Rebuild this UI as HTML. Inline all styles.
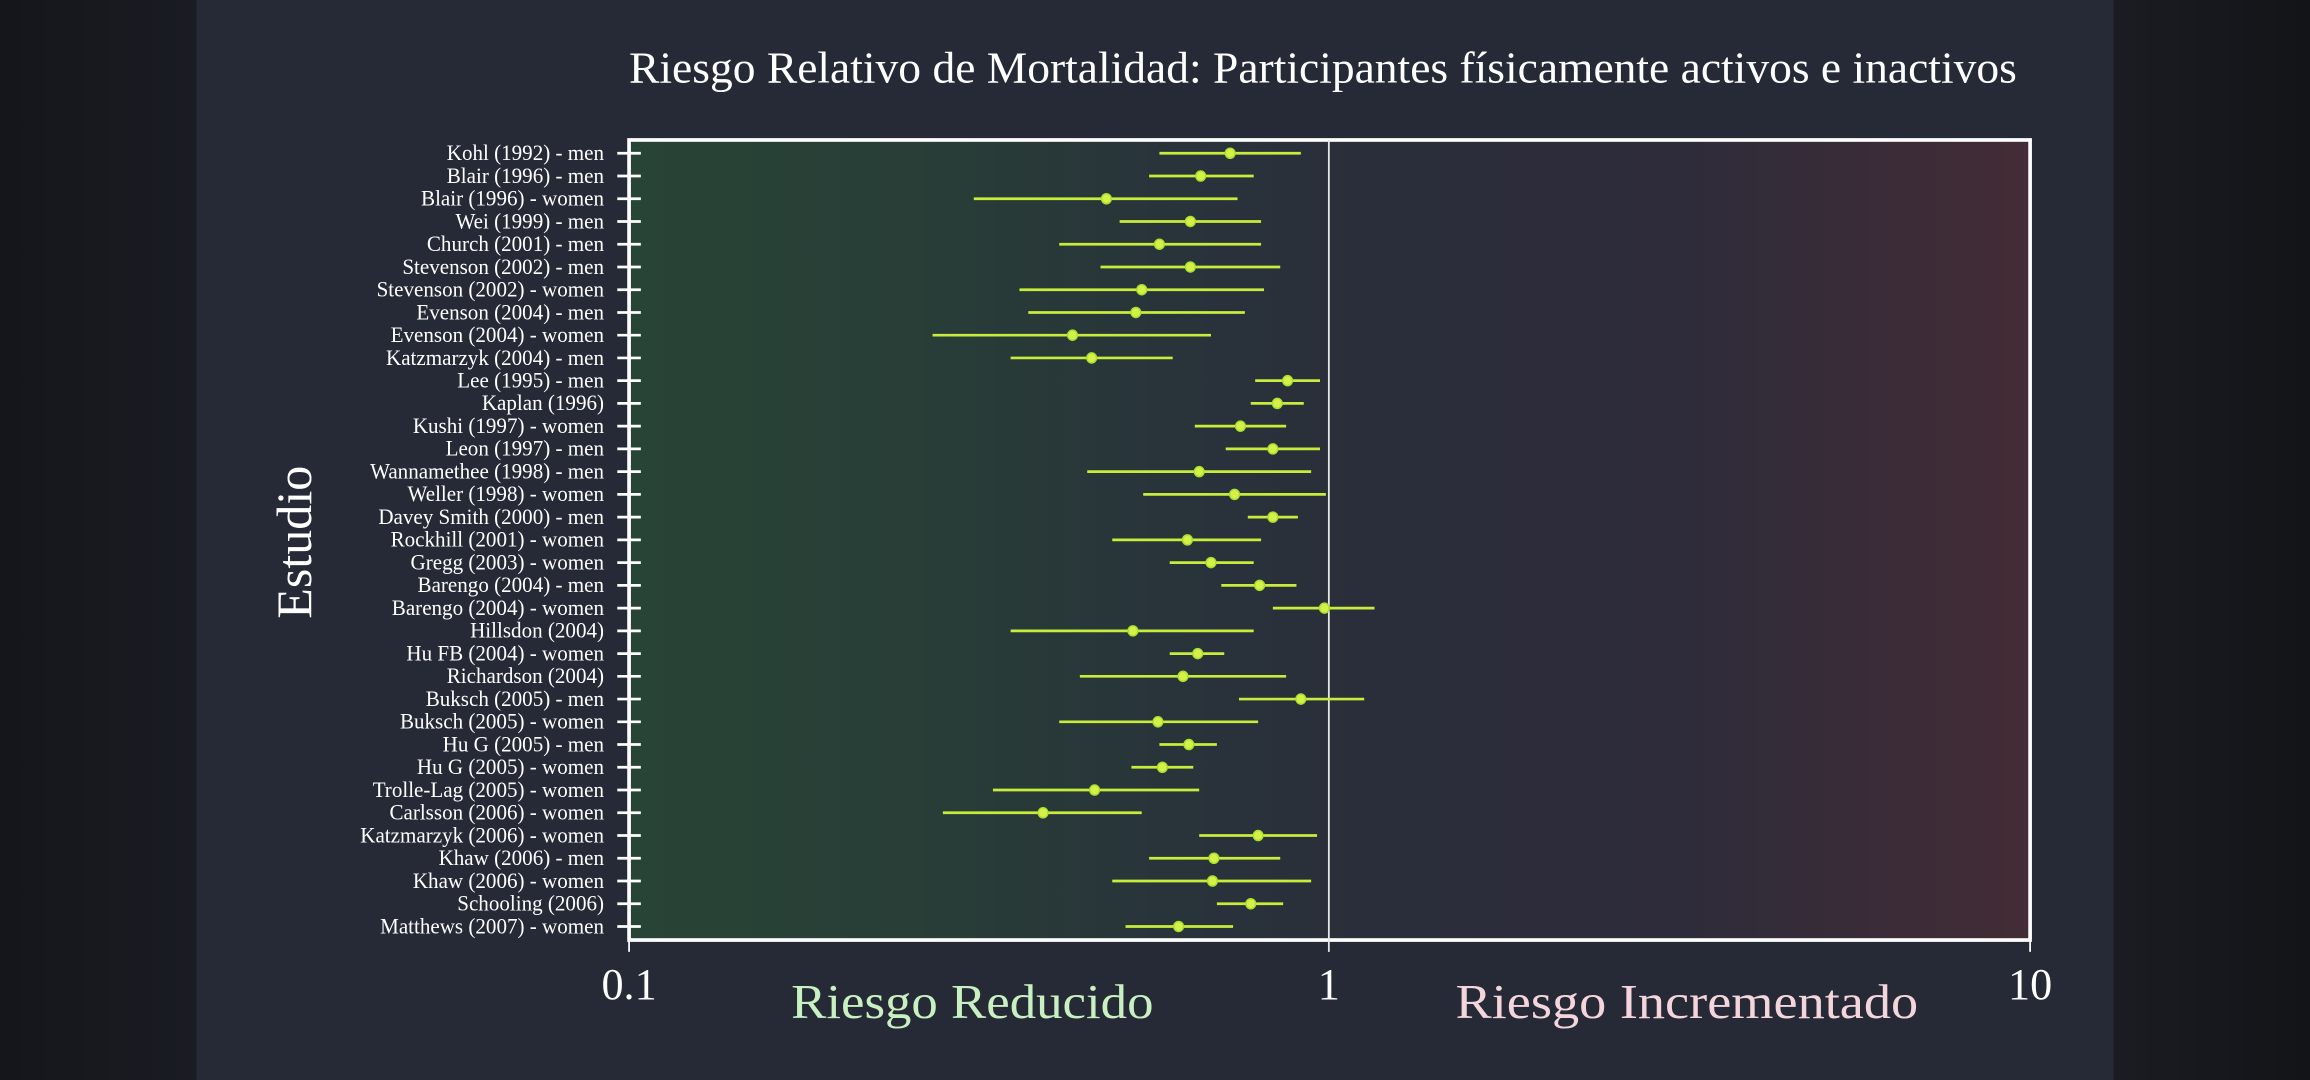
<!DOCTYPE html>
<html><head><meta charset="utf-8"><style>
html,body{margin:0;padding:0;background:#15171c;}
svg{display:block}
text{font-family:"Liberation Serif",serif;}
</style></head><body>
<svg width="2310" height="1080" viewBox="0 0 1568 733" preserveAspectRatio="none" xmlns="http://www.w3.org/2000/svg">
<defs>
<linearGradient id="bg" x1="0" x2="1" y1="0" y2="0">
<stop offset="0" stop-color="#14161b"/><stop offset="0.085" stop-color="#1a1c23"/>
<stop offset="0.085" stop-color="#262a36"/><stop offset="0.915" stop-color="#262a36"/>
<stop offset="0.915" stop-color="#1a1c22"/><stop offset="1" stop-color="#121418"/>
</linearGradient>
<linearGradient id="pf" x1="0" x2="1" y1="0" y2="0">
<stop offset="0" stop-color="#284436"/><stop offset="0.2" stop-color="#283e37"/>
<stop offset="0.4" stop-color="#29333a"/><stop offset="0.55" stop-color="#2a2d3a"/>
<stop offset="0.75" stop-color="#2e2c3a"/><stop offset="1" stop-color="#432c36"/>
</linearGradient>
</defs>
<rect width="1568" height="733" fill="url(#bg)"/>
<text x="898" y="56" fill="#ffffff" font-size="30" text-anchor="middle" textLength="942" lengthAdjust="spacingAndGlyphs">Riesgo Relativo de Mortalidad: Participantes físicamente activos e inactivos</text>
<rect x="427" y="95" width="951" height="543" fill="url(#pf)" stroke="#ffffff" stroke-width="2.5"/>
<line x1="902" y1="95" x2="902" y2="646" stroke="#e8e8e8" stroke-width="1.2"/>
<line x1="427" y1="638" x2="427" y2="646" stroke="#fff" stroke-width="1.2"/>
<line x1="1378" y1="638" x2="1378" y2="646" stroke="#fff" stroke-width="1.2"/>
<text x="427" y="678" fill="#fff" font-size="30" text-anchor="middle">0.1</text>
<text x="902" y="678" fill="#fff" font-size="30" text-anchor="middle">1</text>
<text x="1378" y="678" fill="#fff" font-size="30" text-anchor="middle">10</text>
<text x="660" y="691" fill="#c8f0c0" font-size="33" text-anchor="middle" textLength="246" lengthAdjust="spacingAndGlyphs">Riesgo Reducido</text>
<text x="1145" y="691" fill="#f5d5dc" font-size="33" text-anchor="middle" textLength="314" lengthAdjust="spacingAndGlyphs">Riesgo Incrementado</text>
<text transform="translate(211,368) rotate(-90)" fill="#fff" font-size="34" text-anchor="middle">Estudio</text>
<g transform="matrix(1 0 0 1.029 0 -3.0)">
<g font-size="14.3" fill="#fff" text-anchor="end">
<text x="410" y="108.5">Kohl (1992) - men</text>
<text x="410" y="123.5">Blair (1996) - men</text>
<text x="410" y="138.5">Blair (1996) - women</text>
<text x="410" y="153.5">Wei (1999) - men</text>
<text x="410" y="168.5">Church (2001) - men</text>
<text x="410" y="183.5">Stevenson (2002) - men</text>
<text x="410" y="198.5">Stevenson (2002) - women</text>
<text x="410" y="213.5">Evenson (2004) - men</text>
<text x="410" y="228.5">Evenson (2004) - women</text>
<text x="410" y="243.5">Katzmarzyk (2004) - men</text>
<text x="410" y="258.5">Lee (1995) - men</text>
<text x="410" y="273.5">Kaplan (1996)</text>
<text x="410" y="288.5">Kushi (1997) - women</text>
<text x="410" y="303.5">Leon (1997) - men</text>
<text x="410" y="318.5">Wannamethee (1998) - men</text>
<text x="410" y="333.5">Weller (1998) - women</text>
<text x="410" y="348.5">Davey Smith (2000) - men</text>
<text x="410" y="363.5">Rockhill (2001) - women</text>
<text x="410" y="378.5">Gregg (2003) - women</text>
<text x="410" y="393.5">Barengo (2004) - men</text>
<text x="410" y="408.5">Barengo (2004) - women</text>
<text x="410" y="423.5">Hillsdon (2004)</text>
<text x="410" y="438.5">Hu FB (2004) - women</text>
<text x="410" y="453.5">Richardson (2004)</text>
<text x="410" y="468.5">Buksch (2005) - men</text>
<text x="410" y="483.5">Buksch (2005) - women</text>
<text x="410" y="498.5">Hu G (2005) - men</text>
<text x="410" y="513.5">Hu G (2005) - women</text>
<text x="410" y="528.5">Trolle-Lag (2005) - women</text>
<text x="410" y="543.5">Carlsson (2006) - women</text>
<text x="410" y="558.5">Katzmarzyk (2006) - women</text>
<text x="410" y="573.5">Khaw (2006) - men</text>
<text x="410" y="588.5">Khaw (2006) - women</text>
<text x="410" y="603.5">Schooling (2006)</text>
<text x="410" y="618.5">Matthews (2007) - women</text>
</g>
<g stroke="#fff" stroke-width="1.8">
<path d="M419 104h16M419 119h16M419 134h16M419 149h16M419 164h16M419 179h16M419 194h16M419 209h16M419 224h16M419 239h16M419 254h16M419 269h16M419 284h16M419 299h16M419 314h16M419 329h16M419 344h16M419 359h16M419 374h16M419 389h16M419 404h16M419 419h16M419 434h16M419 449h16M419 464h16M419 479h16M419 494h16M419 509h16M419 524h16M419 539h16M419 554h16M419 569h16M419 584h16M419 599h16M419 614h16"/>
</g>
<g stroke="#c8ec3c" stroke-width="1.8" fill="none">
<path d="M787 104H883M780 119H851M661 134H840M760 149H856M719 164H856M747 179H869M692 194H858M698 209H845M633 224H822M686 239H796M852 254H896M849 269H885M811 284H873M832 299H896M738 314H890M776 329H900M847 344H881M755 359H856M794 374H851M829 389H880M864 404H933M686 419H851M794 434H831M733 449H873M841 464H926M719 479H854M787 494H826M768 509H810M674 524H814M640 539H775M814 554H894M780 569H869M755 584H890M826 599H871M764 614H837"/>
</g>
<g fill="#d6f048" stroke="#a8e030" stroke-width="1">
<circle cx="835" cy="104" r="3.3"/><circle cx="815" cy="119" r="3.3"/><circle cx="751" cy="134" r="3.3"/><circle cx="808" cy="149" r="3.3"/><circle cx="787" cy="164" r="3.3"/><circle cx="808" cy="179" r="3.3"/><circle cx="775" cy="194" r="3.3"/><circle cx="771" cy="209" r="3.3"/><circle cx="728" cy="224" r="3.3"/><circle cx="741" cy="239" r="3.3"/><circle cx="874" cy="254" r="3.3"/><circle cx="867" cy="269" r="3.3"/><circle cx="842" cy="284" r="3.3"/><circle cx="864" cy="299" r="3.3"/><circle cx="814" cy="314" r="3.3"/><circle cx="838" cy="329" r="3.3"/><circle cx="864" cy="344" r="3.3"/><circle cx="806" cy="359" r="3.3"/><circle cx="822" cy="374" r="3.3"/><circle cx="855" cy="389" r="3.3"/><circle cx="899" cy="404" r="3.3"/><circle cx="769" cy="419" r="3.3"/><circle cx="813" cy="434" r="3.3"/><circle cx="803" cy="449" r="3.3"/><circle cx="883" cy="464" r="3.3"/><circle cx="786" cy="479" r="3.3"/><circle cx="807" cy="494" r="3.3"/><circle cx="789" cy="509" r="3.3"/><circle cx="743" cy="524" r="3.3"/><circle cx="708" cy="539" r="3.3"/><circle cx="854" cy="554" r="3.3"/><circle cx="824" cy="569" r="3.3"/><circle cx="823" cy="584" r="3.3"/><circle cx="849" cy="599" r="3.3"/><circle cx="800" cy="614" r="3.3"/>
</g>
</g>
</svg>
</body></html>
